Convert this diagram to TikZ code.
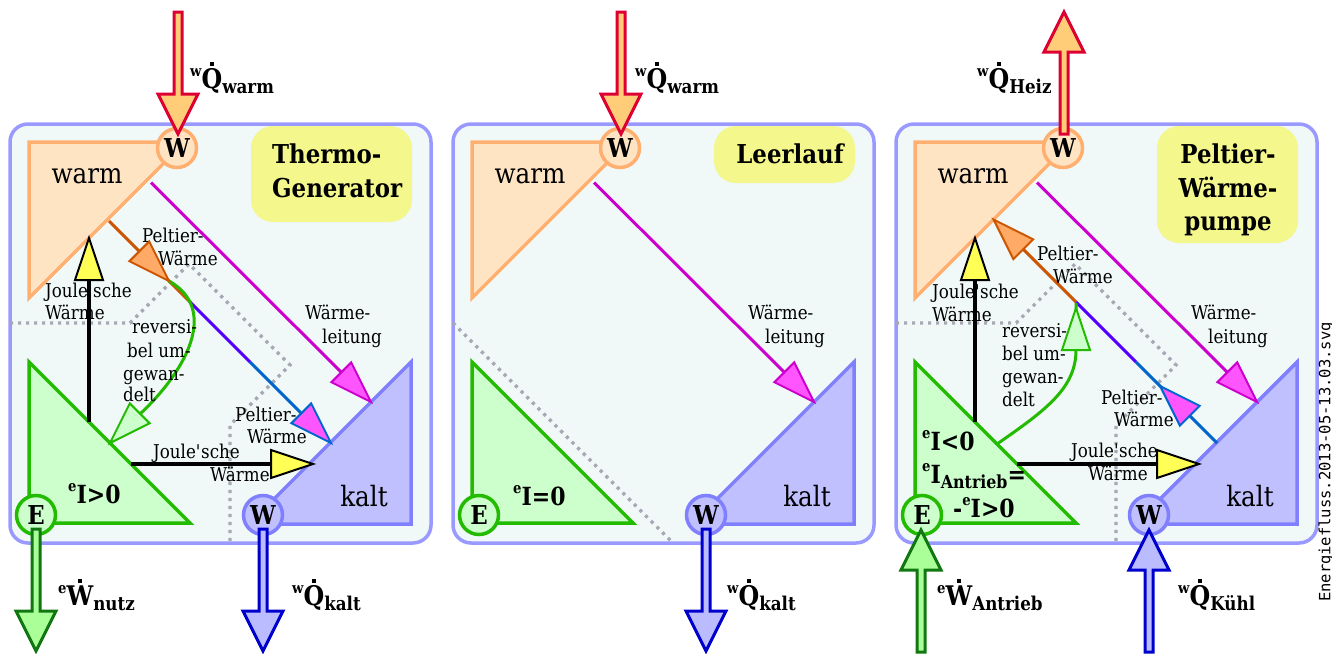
\documentclass[tikz,border=0pt]{standalone}
\usepackage{fontspec}
\setmainfont{DejaVu Serif}[FakeStretch=0.88]
\setmonofont{DejaVu Sans Mono}
\definecolor{boxfill}{HTML}{F0F8F8}
\definecolor{boxline}{HTML}{9999FF}
\definecolor{warmfill}{HTML}{FFE4C4}
\definecolor{warmline}{HTML}{FFB070}
\definecolor{titlefill}{HTML}{F3F78C}
\definecolor{greenfill}{HTML}{CCFFCC}
\definecolor{greenline}{HTML}{22BB00}
\definecolor{kaltfill}{HTML}{C0C0FF}
\definecolor{kaltline}{HTML}{8080FF}
\definecolor{magline}{HTML}{CC00CC}
\definecolor{magfill}{HTML}{FF55FF}
\definecolor{pbrown}{HTML}{CC5500}
\definecolor{pviolet}{HTML}{5500FF}
\definecolor{pblue}{HTML}{0066CC}
\definecolor{orangehead}{HTML}{FFAA66}
\definecolor{qred}{HTML}{DD0033}
\definecolor{qorange}{HTML}{FFCC77}
\definecolor{wgreenline}{HTML}{117711}
\definecolor{wgreenfill}{HTML}{AAFF99}
\definecolor{qblue}{HTML}{0000CC}
\definecolor{qbluefill}{HTML}{BBBBFF}
\definecolor{yellowhead}{HTML}{FFFF55}
\definecolor{dotgray}{HTML}{A8A8B4}
\tikzset{
 panelbox/.style={draw=boxline, fill=boxfill, line width=3.5pt, rounded corners=18pt},
 titlebox/.style={fill=titlefill, rounded corners=22pt},
 sysline/.style={draw=dotgray, line width=3.2pt, dash pattern=on 3.2pt off 4.8pt},
 warmtri/.style={draw=warmline, fill=warmfill, line width=3.5pt},
 greentri/.style={draw=greenline, fill=greenfill, line width=3.5pt},
 kalttri/.style={draw=kaltline, fill=kaltfill, line width=3.5pt},
 circ/.style={circle, minimum size=39pt, inner sep=0pt, line width=3.5pt, font=\bfseries\fontsize{26}{26}\selectfont},
 warmcirc/.style={circ, draw=warmline, fill=warmfill},
 greencirc/.style={circ, draw=greenline, fill=greenfill},
 kaltcirc/.style={circ, draw=kaltline, fill=kaltfill},
 magl/.style={draw=magline, line width=3pt},
 pbr/.style={draw=pbrown, line width=3pt},
 pvi/.style={draw=pviolet, line width=3pt},
 pbl/.style={draw=pblue, line width=3pt},
 gcurve/.style={draw=greenline, line width=3pt},
 joule/.style={draw=black, line width=4pt},
 lbl/.style={font=\fontsize{19}{22}\selectfont, inner sep=0pt, anchor=base west},
 big/.style={font=\fontsize{28}{30}\selectfont, inner sep=0pt, anchor=base},
 ttl/.style={font=\bfseries\fontsize{26}{30}\selectfont, inner sep=0pt},
 flowlbl/.style={inner sep=0pt, anchor=base west},
 head/.pic={\path[pic actions] (0,0) -- (-42,-14) -- (-42,14) -- cycle;},
 fatarrow/.pic={\path[pic actions] (-4,0) -- (-4,82) -- (-20,82) -- (0,122) -- (20,82) -- (4,82) -- (4,0) -- cycle;},
}
\newcommand\withdot[1]{\ooalign{#1\cr\hidewidth\raisebox{22pt}{\rule{4.5pt}{4.5pt}}\hidewidth\cr}}
\newcommand\flowtxt[3]{\bfseries\raisebox{12pt}{\fontsize{15}{15}\selectfont #1}\fontsize{27}{27}\selectfont\withdot{#2}\raisebox{-5pt}{\fontsize{19}{19}\selectfont #3}}
\newcommand\curtxt[1]{\bfseries\raisebox{12pt}{\fontsize{15}{15}\selectfont e}\fontsize{25}{25}\selectfont #1}
\newcommand\panelbase[1]{%
 \path[panelbox] (10,124) rectangle (431,543);
}
\newcommand\paneltris[1]{%
 \draw[warmtri] (29,142) -- (185,142) -- (29,298) -- cycle;
 \draw[greentri] (29,362) -- (190,523) -- (29,523) -- cycle;
 \draw[kalttri] (411,362) -- (411,524) -- (249,524) -- cycle;
 \node[warmcirc] (Ww#1) at (177,148) {W};
 \node[greencirc] (E#1) at (36,515) {E};
 \node[kaltcirc] (Wk#1) at (263,515) {W};
 \coordinate (wlA#1) at (151,182.5);
 \coordinate (wlB#1) at (344,375);
 \draw[magl] (wlA#1) -- (wlB#1);
 \pic[draw=magline, fill=magfill, line width=2pt, rotate=-45] at (371,402) {head};
 \node[lbl] (wla#1) at (305,319) {Wärme-};
 \node[lbl] (wlb#1) at (322,343) {leitung};
 \node[big] (warm#1) at (87,183) {warm};
 \node[big] (kalt#1) at (364,506) {kalt};
}
\begin{document}
\begin{tikzpicture}[x=1pt,y=-1pt]
\useasboundingbox (0,0) rectangle (1332,653);
% ---------------- Panel 1: Thermo-Generator
\begin{scope}
\panelbase{1}
\path[titlebox] (251,126) rectangle (412,222);
\node[ttl, anchor=base west] (ttl1a) at (272,163) {Thermo-};
\node[ttl, anchor=base west] (ttl1b) at (272,197) {Generator};
\draw[sysline] (10,323) -- (130,323) -- (189,264) -- (290,365) -- (230,425) -- (230,543);
\paneltris{1}
\coordinate (pA1) at (109,221);
\coordinate (pB1) at (190,302);
\coordinate (pC1) at (250,362);
\coordinate (pD1) at (304,416);
\draw[pbr] (pA1) -- (pB1);
\draw[pvi] (pB1) -- (pC1);
\draw[pbl] (pC1) -- (pD1);
\coordinate (gA1) at (169,281);
\coordinate (gB1) at (140,414);
\draw[gcurve] (gA1) .. controls (220,310) and (185,372) .. (gB1);
\pic[draw=pbrown, fill=orangehead, line width=2pt, rotate=-45] at (169,281) {head};
\pic[draw=greenline, fill=greenfill, line width=2pt, rotate=-135] at (110,443) {head};
\pic[draw=pblue, fill=magfill, line width=2pt, rotate=-45] at (331,443) {head};
\coordinate (jA1) at (89,422);
\coordinate (jB1) at (89,278);
\draw[joule] (jA1) -- (jB1);
\pic[draw=black, fill=yellowhead, line width=2pt, rotate=90] at (89,238) {head};
\coordinate (jC1) at (131,464);
\coordinate (jD1) at (274,464);
\draw[joule] (jC1) -- (jD1);
\pic[draw=black, fill=yellowhead, line width=2pt] at (313,464) {head};
\pic[draw=qred, fill=qorange, line width=3pt] at (178,12) {fatarrow};
\pic[draw=wgreenline, fill=wgreenfill, line width=3pt] at (36,529) {fatarrow};
\pic[draw=qblue, fill=qbluefill, line width=3pt] at (263,529) {fatarrow};
\node[flowlbl] (qw1) at (190,88) {\flowtxt{w}{Q}{warm}};
\node[flowlbl] (wn1) at (58,605) {\flowtxt{e}{W}{nutz}};
\node[flowlbl] (qk1) at (292,605) {\flowtxt{w}{Q}{kalt}};
\node[flowlbl] (i1) at (68,503) {\curtxt{I>0}};
\node[lbl] (pu1a) at (142,242) {Peltier-};
\node[lbl] (pu1b) at (158,265) {Wärme};
\node[lbl] (pl1a) at (235,421) {Peltier-};
\node[lbl] (pl1b) at (247,443) {Wärme};
\node[lbl] (jv1a) at (45,297) {Joule\textquotesingle sche};
\node[lbl] (jv1b) at (45,319) {Wärme};
\node[lbl] (jh1a) at (153,458) {Joule\textquotesingle sche};
\node[lbl] (jh1b) at (210,481) {Wärme};
\node[lbl] (r1a) at (132,333) {reversi-};
\node[lbl] (r1b) at (127,357) {bel um-};
\node[lbl] (r1c) at (123,380) {gewan-};
\node[lbl] (r1d) at (123,401) {delt};
\end{scope}
% ---------------- Panel 2: Leerlauf
\begin{scope}[xshift=443pt]
\panelbase{2}
\path[titlebox] (271,126) rectangle (412,183);
\node[ttl, anchor=base] (ttl2a) at (347,163) {Leerlauf};
\draw[sysline] (10,323) -- (230,543);
\paneltris{2}
\pic[draw=qred, fill=qorange, line width=3pt] at (178,12) {fatarrow};
\pic[draw=qblue, fill=qbluefill, line width=3pt] at (263,529) {fatarrow};
\node[flowlbl] (qw2) at (192,88) {\flowtxt{w}{Q}{warm}};
\node[flowlbl] (qk2) at (284,605) {\flowtxt{w}{Q}{kalt}};
\node[flowlbl] (i2) at (70,505) {\curtxt{I=0}};
\end{scope}
% ---------------- Panel 3: Peltier-Waermepumpe
\begin{scope}[xshift=886pt]
\panelbase{3}
\path[titlebox] (271,126) rectangle (412,243);
\node[ttl, anchor=base] (ttl3a) at (342,163) {Peltier-};
\node[ttl, anchor=base] (ttl3b) at (342,197) {Wärme-};
\node[ttl, anchor=base] (ttl3c) at (342,230) {pumpe};
\draw[sysline] (10,323) -- (130,323) -- (189,264) -- (290,365) -- (230,425) -- (230,543);
\paneltris{3}
\coordinate (pA3) at (133,245);
\coordinate (pB3) at (190,302);
\coordinate (pC3) at (250,362);
\coordinate (pD3) at (331,443);
\draw[pbr] (pB3) -- (pA3);
\draw[pvi] (pC3) -- (pB3);
\draw[pbl] (pD3) -- (pC3);
\coordinate (gA3) at (111,444);
\coordinate (gB3) at (190,303);
\draw[gcurve] (gA3) .. controls (160,410) and (190,388) .. (190,350) -- (gB3);
\pic[draw=pbrown, fill=orangehead, line width=2pt, rotate=135] at (107.5,219.5) {head};
\pic[draw=greenline, fill=greenfill, line width=2pt, rotate=90] at (190,308) {head};
\pic[draw=pblue, fill=magfill, line width=2pt, rotate=135] at (274,386) {head};
\coordinate (jA3) at (89,422);
\coordinate (jB3) at (89,278);
\draw[joule] (jA3) -- (jB3);
\pic[draw=black, fill=yellowhead, line width=2pt, rotate=90] at (89,238) {head};
\coordinate (jC3) at (131,464);
\coordinate (jD3) at (274,464);
\draw[joule] (jC3) -- (jD3);
\pic[draw=black, fill=yellowhead, line width=2pt] at (313,464) {head};
\pic[draw=qred, fill=qorange, line width=3pt, rotate=180] at (178,134) {fatarrow};
\pic[draw=wgreenline, fill=wgreenfill, line width=3pt, rotate=180] at (35,652) {fatarrow};
\pic[draw=qblue, fill=qbluefill, line width=3pt, rotate=180] at (263,652) {fatarrow};
\node[flowlbl] (qh3) at (91,88) {\flowtxt{w}{Q}{Heiz}};
\node[flowlbl] (wa3) at (51,605) {\flowtxt{e}{W}{Antrieb}};
\node[flowlbl] (qk3) at (292,605) {\flowtxt{w}{Q}{Kühl}};
\node[flowlbl] (i3a) at (36,450) {\curtxt{I<0}};
\node[flowlbl] (i3b) at (36,483) {\curtxt{I\raisebox{-5pt}{\fontsize{18}{18}\selectfont Antrieb}=}};
\node[flowlbl] (i3c) at (67,517) {\bfseries\fontsize{25}{25}\selectfont -\raisebox{12pt}{\fontsize{15}{15}\selectfont e}I>0};
\node[lbl] (pu3a) at (151,260) {Peltier-};
\node[lbl] (pu3b) at (167,283) {Wärme};
\node[lbl] (pl3a) at (215,404) {Peltier-};
\node[lbl] (pl3b) at (228,426) {Wärme};
\node[lbl] (jv3a) at (46,298) {Joule\textquotesingle sche};
\node[lbl] (jv3b) at (46,321) {Wärme};
\node[lbl] (jh3a) at (185,457) {Joule\textquotesingle sche};
\node[lbl] (jh3b) at (202,480) {Wärme};
\node[lbl] (r3a) at (116,337) {reversi-};
\node[lbl] (r3b) at (116,360) {bel um-};
\node[lbl] (r3c) at (116,383) {gewan-};
\node[lbl] (r3d) at (116,406) {delt};
\end{scope}
\node[rotate=90, inner sep=0pt, font=\ttfamily\fontsize{15.5}{15.5}\selectfont] (stamp) at (1326,462) {Energiefluss.2013-05-13.03.svg};
\end{tikzpicture}
\end{document}
